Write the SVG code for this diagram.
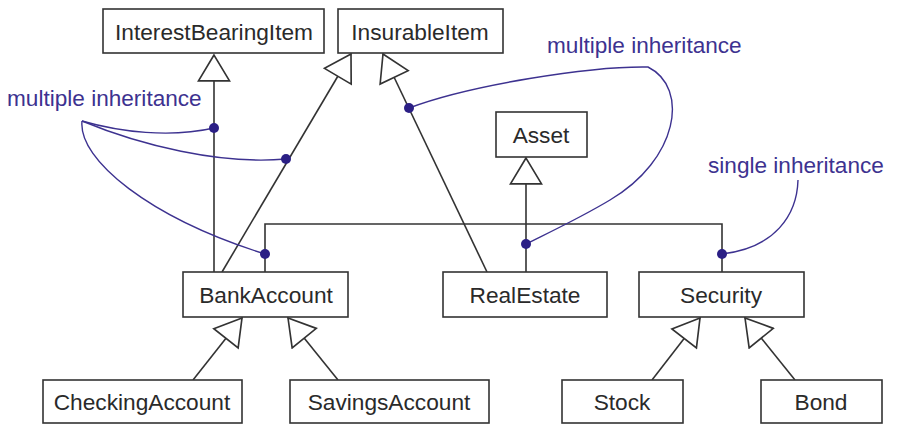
<svg xmlns="http://www.w3.org/2000/svg" width="902" height="431" viewBox="0 0 902 431">
<style>
.box{fill:#fff;stroke:#333;stroke-width:1.6}
.lbl{font-family:"Liberation Sans",Arial,sans-serif;font-size:22.7px;fill:#2a2a2a;text-anchor:middle}
.note{font-family:"Liberation Sans",Arial,sans-serif;font-size:22.6px;fill:#3d3290}
.conn{fill:none;stroke:#333;stroke-width:1.6}
.ann{fill:none;stroke:#3d3290;stroke-width:1.4}
.dot{fill:#2b1f85}
</style>
<defs>
<marker id="tri" markerUnits="userSpaceOnUse" markerWidth="30" markerHeight="34" viewBox="-27 -16 29 32" refX="0" refY="0" orient="auto">
<path d="M0,0 L-25,-15 L-25,15 Z" fill="#fff" stroke="#333" stroke-width="1.6"/>
</marker>
</defs>
<rect width="902" height="431" fill="#fff"/>
<g id="connectors">
<line class="conn" x1="214" y1="272" x2="214" y2="55" marker-end="url(#tri)"/>
<line class="conn" x1="222" y1="272" x2="351" y2="54" marker-end="url(#tri)"/>
<line class="conn" x1="487" y1="272" x2="383" y2="54" marker-end="url(#tri)"/>
<line class="conn" x1="526" y1="272" x2="526" y2="158" marker-end="url(#tri)"/>
<polyline class="conn" points="265,272 265,224 722,224 722,272"/>
<line class="conn" x1="193" y1="380" x2="242" y2="318" marker-end="url(#tri)"/>
<line class="conn" x1="338" y1="380" x2="288" y2="318" marker-end="url(#tri)"/>
<line class="conn" x1="652" y1="380" x2="700" y2="318" marker-end="url(#tri)"/>
<line class="conn" x1="795" y1="380" x2="745" y2="318" marker-end="url(#tri)"/>
</g>
<g id="n-interest"><rect class="box" x="103" y="9" width="221" height="44"/><text class="lbl" x="214" y="40">InterestBearingItem</text></g>
<g id="n-insurable"><rect class="box" x="338" y="9" width="165" height="44"/><text class="lbl" x="420" y="40">InsurableItem</text></g>
<g id="n-asset"><rect class="box" x="496" y="112" width="91" height="45"/><text class="lbl" x="541" y="143">Asset</text></g>
<g id="n-bank"><rect class="box" x="183" y="272" width="165" height="45"/><text class="lbl" x="266" y="303">BankAccount</text></g>
<g id="n-realestate"><rect class="box" x="443" y="272" width="164" height="45"/><text class="lbl" x="525" y="303">RealEstate</text></g>
<g id="n-security"><rect class="box" x="639" y="272" width="165" height="45"/><text class="lbl" x="721" y="303">Security</text></g>
<g id="n-checking"><rect class="box" x="43" y="380" width="199" height="43"/><text class="lbl" x="142" y="410">CheckingAccount</text></g>
<g id="n-savings"><rect class="box" x="290" y="380" width="199" height="43"/><text class="lbl" x="389" y="410">SavingsAccount</text></g>
<g id="n-stock"><rect class="box" x="562" y="380" width="121" height="43"/><text class="lbl" x="622" y="410">Stock</text></g>
<g id="n-bond"><rect class="box" x="761" y="380" width="121" height="43"/><text class="lbl" x="821" y="410">Bond</text></g>
<g id="annotations">
<text class="note" x="7" y="106">multiple inheritance</text>
<text class="note" x="547" y="53">multiple inheritance</text>
<text class="note" x="708" y="173">single inheritance</text>
<path class="ann" d="M82,121 C120,132 170,138 214,128"/>
<path class="ann" d="M82,121 C140,145 220,165 286,159"/>
<path class="ann" d="M82,121 C78,160 150,218 265,254"/>
<path class="ann" d="M409,108 C470,85 590,66 648,67 C690,88 678,160 610,200 C580,218 550,232 526,244"/>
<path class="ann" d="M798,180 C797,215 775,248 722,254"/>
<circle class="dot" cx="214" cy="128" r="5"/>
<circle class="dot" cx="286" cy="159" r="5"/>
<circle class="dot" cx="265" cy="254" r="5"/>
<circle class="dot" cx="409" cy="108" r="5"/>
<circle class="dot" cx="526" cy="244" r="5"/>
<circle class="dot" cx="722" cy="254" r="5"/>
</g>
</svg>
